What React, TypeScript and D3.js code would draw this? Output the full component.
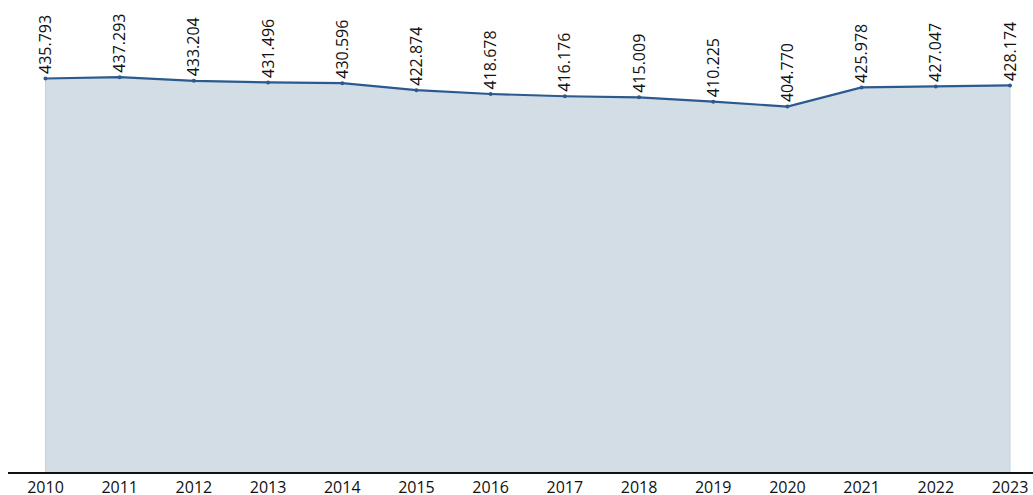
import React from "react";
import * as d3 from "d3";

const years: string[] = ["2010","2011","2012","2013","2014","2015","2016","2017","2018","2019","2020","2021","2022","2023"];
const values: number[] = [435.793,437.293,433.204,431.496,430.596,422.874,418.678,416.176,415.009,410.225,404.77,425.978,427.047,428.174];
const labels: string[] = ["435.793","437.293","433.204","431.496","430.596","422.874","418.678","416.176","415.009","410.225","404.770","425.978","427.047","428.174"];

const W = 1033, H = 495;
const FONT = "'Open Sans', 'Noto Sans', sans-serif";

export default function App() {
  const x = d3.scalePoint<string>().domain(years).range([45.5, 1010]);
  const y = d3.scaleLinear().domain([0, 522.5]).range([473, 0]);
  const pts = years.map((yr, i) => ({ yr, v: values[i], lab: labels[i] }));
  const area = d3.area<any>().x(d => x(d.yr)!).y0(y(0)).y1(d => y(d.v));
  const line = d3.line<any>().x(d => x(d.yr)!).y(d => y(d.v));
  return (
    <svg width={W} height={H} style={{ position: "absolute", left: 0, top: 0 }}>
      <path d={area(pts)!} fill="#d3dde6" stroke="#c3d1de" strokeWidth={1} />
      <path d={line(pts)!} fill="none" stroke="#2c5a8f" strokeWidth={2.2} />
      {pts.map(p => (
        <circle key={p.yr} cx={x(p.yr)} cy={y(p.v)} r={2} fill="#2c5a8f" />
      ))}
      {pts.map(p => (
        <text key={"l" + p.yr}
          transform={`translate(${x(p.yr)! + 5.5},${y(p.v) - 4.5}) rotate(-90)`}
          fontFamily={FONT} fontSize={16} fill="#111">{p.lab}</text>
      ))}
      <line x1={8} x2={W} y1={473} y2={473} stroke="#111" strokeWidth={2} />
      {years.map(yr => (
        <text key={"t" + yr} x={x(yr)} y={493} textAnchor="middle"
          fontFamily={FONT} fontSize={16} fill="#111">{yr}</text>
      ))}
    </svg>
  );
}
